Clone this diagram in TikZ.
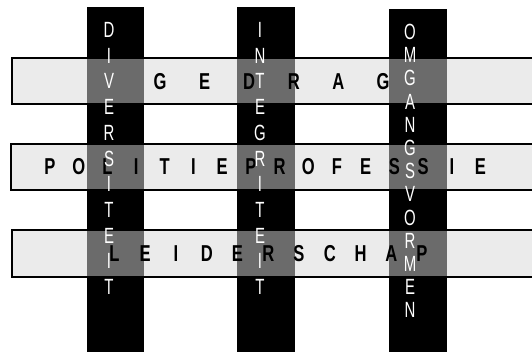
\documentclass[tikz,border=0pt]{standalone}
\usepackage{fontspec}
\newfontfamily\balkfont{Liberation Sans Bold}[FakeStretch=0.72]
\newfontfamily\zuilfont{Liberation Sans}[FakeStretch=0.68]
\usetikzlibrary{positioning}

\tikzset{
  balk/.style={draw=black, line width=1.6pt, fill=black!8},
  zuil/.style={fill=black},
  kruis/.style={fill=black!58},
  hletter/.style={font=\balkfont\fontsize{23}{23}\selectfont, text=black, inner sep=0pt},
  vletter/.style={font=\zuilfont\fontsize{22}{22}\selectfont, text=white, inner sep=0pt}
}

\begin{document}
\begin{tikzpicture}[x=1pt, y=-1pt]
  \useasboundingbox (0,0) rectangle (532,351);
  \clip (0,0) rectangle (532,351);
  % Horizontal beams
  \draw[balk] (12,58)  rectangle (545,104);
  \draw[balk] (11,144) rectangle (545,190);
  \draw[balk] (12,230) rectangle (545,277);
  % Vertical pillars
  \fill[zuil] (87,7)  rectangle (144,360);
  \fill[zuil] (237,7) rectangle (295,360);
  \fill[zuil] (389,9) rectangle (447,360);
  % Crossings
  \foreach \xa/\xb in {87/144, 237/295, 389/447}
    \foreach \ya/\yb in {59/103, 145/189, 231/276}
      \fill[kruis] (\xa,\ya) rectangle (\xb,\yb);
  % Horizontal words
  \foreach \l [count=\i] in {G,E,D,R,A,G}
    \node[hletter] (ged\i) at ({160+44.6*(\i-1)},82) {\l};
  \foreach \l [count=\i] in {P,O,L,I,T,I,E,P,R,O,F,E,S,S,I,E}
    \node[hletter] (pol\i) at ({50+28.7*(\i-1)},167) {\l};
  \foreach \l [count=\i] in {L,E,I,D,E,R,S,C,H,A,P}
    \node[hletter] (lei\i) at ({114.5+30.75*(\i-1)},254) {\l};
  % Vertical words
  \foreach \l [count=\i] in {D,I,V,E,R,S,I,T,E,I,T}
    \node[vletter] (div\i) at (109,{30+25.7*(\i-1)}) {\l};
  \foreach \l [count=\i] in {I,N,T,E,G,R,I,T,E,I,T}
    \node[vletter] (int\i) at (260,{30+25.7*(\i-1)}) {\l};
  \foreach \l [count=\i] in {O,M,G,A,N,G,S,V,O,R,M,E,N}
    \node[vletter] (omg\i) at (410,{32+23.2*(\i-1)}) {\l};
\end{tikzpicture}
\end{document}
